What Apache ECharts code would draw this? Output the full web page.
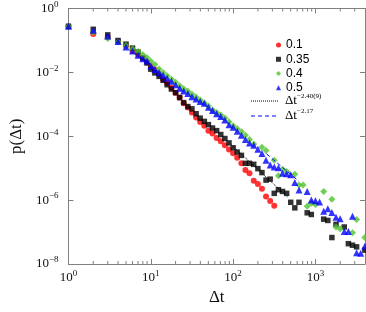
<!DOCTYPE html>
<html><head><meta charset="utf-8">
<script src="https://cdn.jsdelivr.net/npm/echarts@6.0.0/dist/echarts.min.js"></script>
<style>html,body{margin:0;padding:0;background:#fff}#c{width:366px;height:312px}</style>
</head><body><div id="c"></div>
<script>
// Δt bins (x values)
const xBins = [1,2,3,4,5,6,7,8,9,10,
  11.2,12.6,14.1,15.8,17.8,20,22.4,25.1,28.2,31.6,
  35.5,39.8,44.7,50.1,56.2,63.1,70.8,79.4,89.1,100,
  112,126,141,158,178,200,224,251,282,316,
  355,398,447,501,562,631,708,794,891,1000,
  1122,1259,1413,1585,1778,1995,2239,2512,2818,3162,
  3548,3981];
// p(Δt) for each series
const p01 = [0.277,0.160,0.126,0.0948,0.0687,0.0465,0.0356,0.0282,0.0212,0.0159,
  0.0120,0.00897,0.00607,0.00456,0.00330,0.00231,0.00162,0.00108,7.93e-4,5.55e-4,
  3.88e-4,2.77e-4,2.15e-4,1.50e-4,1.21e-4,8.85e-5,7.00e-5,5.26e-5,3.87e-5,2.91e-5,
  2.12e-5,1.42e-5,8.83e-6,6.97e-6,4.03e-6,3.18e-6,2.28e-6,1.31e-6,9.44e-7,6.61e-7,
  null,null,null,null,null,null,null,null,null,null,
  null,null,null,null,null,null,null,null,null,null,
  null,null];
const p035 = [0.277,0.223,0.149,0.0996,0.0765,0.0575,0.0432,0.0282,0.0197,0.0126,
  0.00964,0.00751,0.00565,0.00409,0.00301,0.00231,0.00162,0.00113,8.51e-4,7.22e-4,
  5.06e-4,3.69e-4,2.92e-4,2.31e-4,1.81e-4,1.50e-4,1.13e-4,8.49e-5,6.20e-5,4.34e-5,
  3.19e-5,2.52e-5,1.42e-5,1.42e-5,1.32e-5,9.68e-6,7.28e-6,4.23e-6,4.54e-6,1.63e-6,
  2.12e-6,1.87e-6,1.63e-6,8.55e-7,5.73e-7,8.55e-7,null,4.01e-7,3.55e-7,null,
  null,2.54e-7,2.31e-7,6.73e-8,1.74e-7,null,1.44e-7,4.33e-8,3.88e-8,3.44e-8,
  null,2.72e-8];
const p04 = [0.277,0.180,0.115,0.0915,0.0697,0.0535,0.0454,0.0356,0.0288,0.0222,
  0.0175,0.0128,0.00986,0.00779,0.00607,0.00490,0.00381,0.00308,0.00258,0.00208,
  0.00168,0.00136,0.00109,8.83e-4,6.64e-4,5.55e-4,4.65e-4,3.75e-4,2.82e-4,2.12e-4,
  1.71e-4,1.38e-4,1.07e-4,7.91e-5,5.77e-5,null,4.56e-5,3.61e-5,null,1.77e-5,
  5.75e-6,9.27e-6,7.82e-6,null,6.49e-6,2.96e-6,2.96e-6,6.43e-7,7.96e-7,7.24e-7,
  null,1.87e-6,null,1.07e-6,1.44e-7,1.28e-7,null,null,9.48e-8,2.48e-7,
  null,6.73e-8];
const p05 = [0.277,0.208,0.138,0.0927,0.0618,0.0465,0.0341,0.0268,0.0227,0.0159,
  0.0122,0.00986,0.00807,0.00652,0.00526,0.00409,0.00319,0.00261,0.00220,0.00174,
  0.00146,0.00122,0.00108,8.11e-4,6.40e-4,5.06e-4,4.17e-4,3.25e-4,2.31e-4,1.90e-4,
  1.43e-4,1.07e-4,7.91e-5,6.20e-5,5.26e-5,3.95e-5,2.86e-5,1.77e-5,1.26e-5,1.09e-5,
  1.04e-5,6.97e-6,6.64e-6,6.18e-6,3.56e-6,2.07e-6,null,1.87e-6,1.01e-6,9.64e-7,
  8.67e-7,4.50e-7,5.33e-7,4.09e-7,2.93e-7,2.61e-7,1.05e-7,1.05e-7,3.15e-7,2.24e-8,
  2.19e-8,3.61e-8];
// fit lines (end points)
const fitDottedX = [92, 460];
const fitDottedY = [5.9e-5, 1.24e-6];
const fitDashedX = [255, 630];
const fitDashedY = [2.8e-5, 3.9e-6];
// axes
const xMin = 1, xMax = 4000, yMin = 1e-8, yMax = 1;
const xMinorTicks = [2,3,4,5,6,7,8,9,20,30,40,50,60,70,80,90,200,300,400,500,600,700,800,900,2000,3000];
const seriesNames = ['0.1','0.35','0.4','0.5'];
const fitNames = ['Δt^-2.40(9)','Δt^-2.17'];
const fitLabels = ['−2.40(9)','−2.17'];

const axisColor = '#808080';
const serif = 'Liberation Serif';
const dottedStyle = {color:'#000',width:1,type:'dotted'};
const dashedStyle = {color:'#0000ff',width:1,type:[4,3]};
const fitLegendLeft = 251, fitLegendTop = 93, fitRow = 15, fitIconW = 28;

function zip(xs, ys){ const out=[]; xs.forEach((x,i)=>{ if(ys[i]!=null) out.push([x, ys[i]]); }); return out; }
function powLabel(v){
  const l = Math.log10(v); const e = Math.round(l);
  if (Math.abs(l-e) > 1e-6) return '';
  return '{b|10}{s|' + (e<0 ? '−'+(-e) : e) + '}';
}
const labelRich = {
  b:{fontFamily:serif,fontSize:13,color:'#111',lineHeight:17},
  s:{fontFamily:serif,fontSize:9,color:'#111',verticalAlign:'top',lineHeight:9}
};
const baseAxis = {
  type:'log', logBase:10,
  axisLine:{show:true,lineStyle:{color:axisColor,width:1}},
  axisTick:{show:true,inside:true,length:5,lineStyle:{color:axisColor}},
  splitLine:{show:false}, minorTick:{show:false}
};

const chart = echarts.init(document.getElementById('c'), null, {renderer:'canvas'});
chart.setOption({
  animation:false,
  backgroundColor:'#fff',
  grid:{left:55,right:1,top:6,bottom:48,containLabel:false},
  xAxis:[
    Object.assign({}, baseAxis, {position:'bottom', min:xMin, max:xMax, interval:1,
      name:'Δt', nameLocation:'middle', nameGap:22,
      nameTextStyle:{fontFamily:serif,fontSize:17,color:'#111'},
      axisLabel:{margin:5,formatter:powLabel,rich:labelRich,showMaxLabel:false}}),
    Object.assign({}, baseAxis, {position:'top', min:xMin, max:xMax, interval:1, axisLabel:{show:false}})
  ],
  yAxis:[
    Object.assign({}, baseAxis, {position:'left', min:yMin, max:yMax, interval:2, splitNumber:4,
      name:'p(Δt)', nameLocation:'middle', nameGap:41, nameRotate:90,
      nameTextStyle:{fontFamily:serif,fontSize:17,color:'#111'},
      axisLabel:{margin:10,formatter:powLabel,rich:labelRich}}),
    Object.assign({}, baseAxis, {position:'right', min:yMin, max:yMax, interval:2, splitNumber:4, axisLabel:{show:false}})
  ],
  legend:[
    {data:seriesNames, orient:'vertical', left:276, top:38, padding:0, itemGap:0,
     itemWidth:5, itemHeight:5, selectedMode:false,
     textStyle:{fontFamily:'Liberation Sans',fontSize:12,color:'#000',lineHeight:14.2}},
    {data:fitNames, orient:'vertical', left:fitLegendLeft, top:fitLegendTop, padding:0, itemGap:0,
     itemWidth:fitIconW, itemHeight:8, selectedMode:false,
     itemStyle:{opacity:0}, lineStyle:{opacity:0},
     formatter:function(n){ return '{d|Δt}{s|' + fitLabels[fitNames.indexOf(n)] + '}'; },
     textStyle:{color:'#000',lineHeight:fitRow,rich:{
       d:{fontFamily:serif,fontSize:13,color:'#000',lineHeight:fitRow},
       s:{fontFamily:serif,fontSize:7,color:'#000',verticalAlign:'top',lineHeight:7}}}}
  ],
  graphic:[
    {type:'line', silent:true, shape:{x1:fitLegendLeft,y1:fitLegendTop+fitRow/2+0.5,x2:fitLegendLeft+fitIconW,y2:fitLegendTop+fitRow/2+0.5},
     style:{stroke:'#000',lineWidth:1,lineDash:[1,1]}},
    {type:'line', silent:true, shape:{x1:fitLegendLeft,y1:fitLegendTop+fitRow*1.5+0.5,x2:fitLegendLeft+fitIconW,y2:fitLegendTop+fitRow*1.5+0.5},
     style:{stroke:'#0000ff',lineWidth:1,lineDash:[4,3]}}
  ],
  series:[
    {type:'custom', name:'minor', silent:true, clip:false, z:1,
     data:xMinorTicks.map(v=>[v,yMin]), encode:{x:0,y:1},
     renderItem:function(params, api){
       const x = api.value(0);
       const b = api.coord([x, yMin]);
       const t = api.coord([x, yMax]);
       return {type:'group', children:[
         {type:'line', shape:{x1:b[0],y1:b[1],x2:b[0],y2:b[1]-3}, style:{stroke:axisColor,lineWidth:1}},
         {type:'line', shape:{x1:t[0],y1:t[1],x2:t[0],y2:t[1]+3}, style:{stroke:axisColor,lineWidth:1}}
       ]};
     }},
    {type:'scatter', name:seriesNames[0], data:zip(xBins,p01), symbol:'circle', symbolSize:6, itemStyle:{color:'#ff0000'}, z:3},
    {type:'scatter', name:seriesNames[1], data:zip(xBins,p035), symbol:'rect', symbolSize:5.5, itemStyle:{color:'#000000'}, z:4},
    {type:'scatter', name:seriesNames[2], data:zip(xBins,p04), symbol:'diamond', symbolSize:7, itemStyle:{color:'#4fc32c'}, z:5},
    {type:'scatter', name:seriesNames[3], data:zip(xBins,p05), symbol:'triangle', symbolSize:7, itemStyle:{color:'#0000ff'}, z:6},
    {type:'line', name:fitNames[0], data:zip(fitDottedX,fitDottedY), symbol:'none', showSymbol:false, z:7,
     lineStyle:dottedStyle, itemStyle:{color:'#000'}},
    {type:'line', name:fitNames[1], data:zip(fitDashedX,fitDashedY), symbol:'none', showSymbol:false, z:7,
     lineStyle:dashedStyle, itemStyle:{color:'#0000ff'}}
  ]
});
</script></body></html>
